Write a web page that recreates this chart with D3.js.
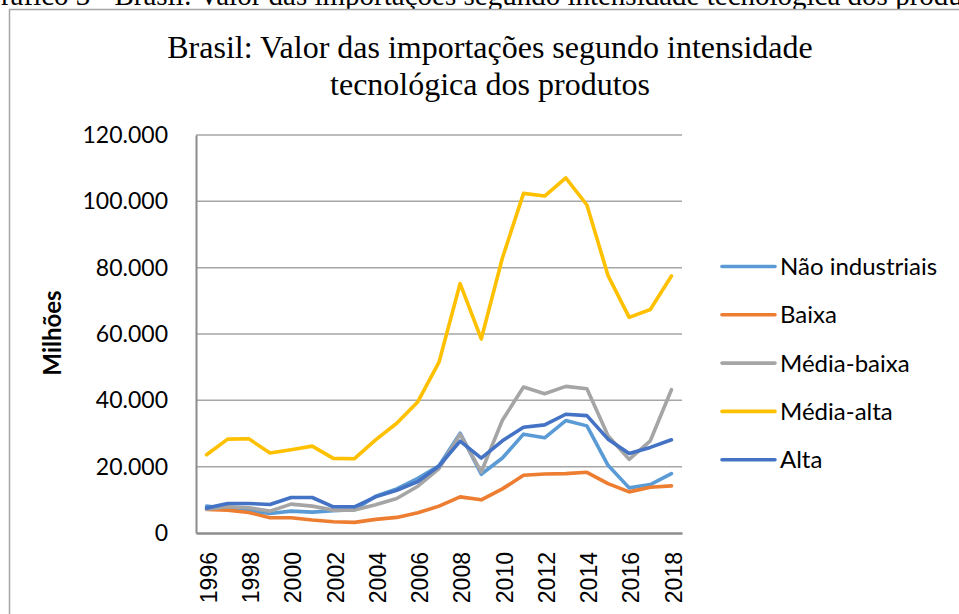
<!DOCTYPE html>
<html>
<head>
<meta charset="utf-8">
<script src="https://cdn.jsdelivr.net/npm/d3@7"></script>
<style>
  body { margin: 0; background: #fff; }
  svg { display: block; }
</style>
</head>
<body>
<svg id="chart"></svg>
<script>
const years = d3.range(1996, 2019);
const yearLabels = [1996, 1998, 2000, 2002, 2004, 2006, 2008, 2010, 2012, 2014, 2016, 2018];
const yTicks = [0, 20000, 40000, 60000, 80000, 100000, 120000];

const seriesNames = ["Não industriais", "Baixa", "Média-baixa", "Média-alta", "Alta"];
const seriesColors = ["#5B9BD5", "#ED7D31", "#A5A5A5", "#FFC000", "#4472C4"];

// valores em milhões (US$)
const naoIndustriais = [8100, 7300, 6700, 5900, 6600, 6300, 6700, 7000, 11100, 13300, 16500, 20300, 30100, 17700, 22600, 29800, 28700, 33900, 32300, 20400, 13600, 14600, 17900];
const baixa = [7100, 6900, 6200, 4600, 4600, 3900, 3400, 3200, 4100, 4700, 6100, 8100, 10900, 10000, 13300, 17400, 17800, 17900, 18300, 14900, 12400, 13800, 14200];
const mediaBaixa = [7200, 7900, 7600, 6600, 8700, 8100, 6900, 6900, 8500, 10400, 14100, 19400, 29800, 18400, 34000, 44000, 42000, 44200, 43500, 29300, 22200, 27800, 43200];
const mediaAlta = [23600, 28300, 28400, 24100, 25100, 26200, 22500, 22400, 28100, 33100, 39600, 51500, 75200, 58500, 82900, 102400, 101600, 107100, 98900, 77600, 65000, 67400, 77500];
const alta = [7500, 8900, 8900, 8600, 10700, 10700, 7900, 7900, 10900, 12900, 15500, 20200, 27700, 22600, 27800, 31900, 32600, 35800, 35400, 28300, 24000, 25800, 28100];

const seriesValues = [naoIndustriais, baixa, mediaBaixa, mediaAlta, alta];

const width = 959;
const height = 614;
const plot = { left: 196, right: 682, top: 135, bottom: 533 };

const svg = d3.select("#chart")
    .attr("width", width)
    .attr("height", height);

// legenda da figura, cortada no topo como no original
svg.append("text")
    .attr("x", -20)
    .attr("y", 5)
    .style("font-family", "'Liberation Serif', 'Times New Roman', serif")
    .style("font-size", "29px")
    .attr("fill", "#000")
    .text("Gráfico 3 - Brasil: Valor das importações segundo intensidade tecnológica dos produtos");

// moldura do gráfico
svg.append("rect")
    .attr("x", 9.5)
    .attr("y", 9.5)
    .attr("width", 1000)
    .attr("height", 700)
    .attr("fill", "#fff")
    .attr("stroke", "#a6a6a6")
    .attr("stroke-width", 1.5);

const title = svg.append("text")
    .attr("text-anchor", "middle")
    .style("font-family", "'Liberation Serif', 'Times New Roman', serif")
    .style("font-size", "32px")
    .attr("fill", "#000");
title.append("tspan").attr("x", 490).attr("y", 58)
    .text("Brasil: Valor das importações segundo intensidade");
title.append("tspan").attr("x", 490).attr("y", 95)
    .text("tecnológica dos produtos");

const x = d3.scalePoint()
    .domain(years)
    .range([plot.left, plot.right])
    .padding(0.5);

const y = d3.scaleLinear()
    .domain([0, 120000])
    .range([plot.bottom, plot.top]);

const ptBR = d3.formatLocale({ decimal: ",", thousands: ".", grouping: [3], currency: ["R$", ""] });
const fmt = ptBR.format(",");

// grade
svg.append("g")
    .selectAll("line")
    .data(yTicks.filter(d => d > 0))
    .enter()
    .append("line")
    .attr("x1", plot.left)
    .attr("x2", plot.right)
    .attr("y1", d => y(d))
    .attr("y2", d => y(d))
    .attr("stroke", "#a6a6a6")
    .attr("stroke-width", 1.5);

// eixo Y
const yAxis = svg.append("g")
    .attr("transform", `translate(${plot.left},0)`)
    .call(d3.axisLeft(y).tickValues(yTicks).tickFormat(fmt).tickSize(0).tickPadding(28));
yAxis.select(".domain").attr("stroke", "#8c8c8c").attr("stroke-width", 2);
yAxis.selectAll("text")
    .style("font-family", "Lato, 'Open Sans', sans-serif")
    .style("font-size", "23px")
    .attr("fill", "#000");

// eixo X
const xAxis = svg.append("g")
    .attr("transform", `translate(0,${plot.bottom})`)
    .call(d3.axisBottom(x).tickValues(yearLabels).tickSize(0).tickPadding(0));
xAxis.select(".domain").attr("stroke", "#8c8c8c").attr("stroke-width", 2.5);
xAxis.selectAll("text")
    .attr("transform", "translate(1.5,19) rotate(-90)")
    .attr("text-anchor", "end")
    .attr("x", 0)
    .attr("y", 0)
    .attr("dy", "0.36em")
    .style("font-family", "'Liberation Sans', Arial, sans-serif")
    .style("font-size", "23px")
    .attr("fill", "#000");

// título do eixo Y
svg.append("text")
    .attr("transform", "translate(61,333) rotate(-90)")
    .attr("text-anchor", "middle")
    .style("font-family", "Lato, 'Open Sans', sans-serif")
    .style("font-size", "24px")
    .style("font-weight", "bold")
    .attr("fill", "#000")
    .text("Milhões");

// linhas
const line = d3.line()
    .x((d, i) => x(years[i]))
    .y(d => y(d));

svg.append("g")
    .selectAll("path")
    .data(seriesValues)
    .enter()
    .append("path")
    .attr("d", line)
    .attr("fill", "none")
    .attr("stroke", (d, i) => seriesColors[i])
    .attr("stroke-width", 3.6)
    .attr("stroke-linejoin", "round")
    .attr("stroke-linecap", "round");

// legenda
const legend = svg.append("g")
    .selectAll("g")
    .data(seriesNames)
    .enter()
    .append("g")
    .attr("transform", (d, i) => `translate(0,${266.5 + i * 48.3})`);

legend.append("line")
    .attr("x1", 722)
    .attr("x2", 775)
    .attr("stroke", (d, i) => seriesColors[i])
    .attr("stroke-width", 3.6)
    .attr("stroke-linecap", "round");

legend.append("text")
    .attr("x", 780)
    .attr("dy", "0.35em")
    .style("font-family", "Lato, 'Open Sans', sans-serif")
    .style("font-size", "24px")
    .attr("fill", "#000")
    .text(d => d);
</script>
</body>
</html>
